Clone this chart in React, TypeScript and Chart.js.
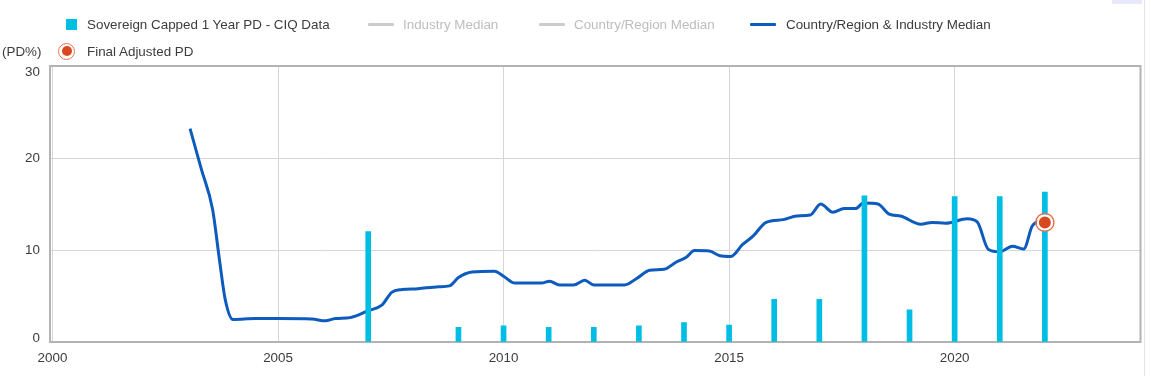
import React, { useEffect, useRef } from "react";
import { Chart, registerables } from "chart.js";

Chart.register(...registerables);

// ---------- data ----------
const barYears = [2007, 2009, 2010, 2011, 2012, 2013, 2014, 2015, 2016, 2017, 2018, 2019, 2020, 2021, 2022];
const barValues = [12.0, 1.6, 1.75, 1.6, 1.6, 1.75, 2.1, 1.85, 4.65, 4.65, 15.9, 3.5, 15.8, 15.8, 16.3];

const lineYears = [
  2003.05, 2003.3, 2003.55, 2003.7, 2003.83, 2004.0, 2004.5, 2005.0, 2005.75, 2006.05,
  2006.27, 2006.6, 2007.0, 2007.3, 2007.52, 2007.75, 2008.1, 2008.56, 2008.8, 2009.0,
  2009.3, 2009.8, 2010.0, 2010.25, 2010.84, 2011.02, 2011.24, 2011.55, 2011.8, 2012.0,
  2012.68, 2012.98, 2013.24, 2013.56, 2013.83, 2014.05, 2014.23, 2014.56, 2014.78, 2015.04,
  2015.3, 2015.53, 2015.82, 2016.2, 2016.5, 2016.8, 2017.03, 2017.3, 2017.55, 2017.8,
  2017.98, 2018.3, 2018.55, 2018.8, 2019.25, 2019.5, 2019.8, 2020.28, 2020.5, 2020.75,
  2021.0, 2021.28, 2021.53, 2021.72, 2021.9, 2022.0,
];
const lineValues = [
  23.2, 18.8, 14.4, 9.0, 4.6, 2.45, 2.55, 2.55, 2.5, 2.3,
  2.55, 2.65, 3.4, 4.0, 5.4, 5.7, 5.8, 6.0, 6.1, 7.0,
  7.6, 7.7, 7.15, 6.4, 6.4, 6.6, 6.2, 6.2, 6.7, 6.2,
  6.2, 7.0, 7.8, 7.9, 8.7, 9.2, 9.95, 9.9, 9.4, 9.3,
  10.6, 11.5, 13.0, 13.3, 13.7, 13.8, 15.0, 14.1, 14.5, 14.5,
  15.1, 15.0, 13.9, 13.7, 12.8, 13.0, 12.9, 13.4, 13.05, 10.05,
  9.8, 10.4, 10.1, 12.6, 13.1, 13.0,
];

const finalYears = [2022];
const finalValues = [13.0];

const xMin = 1999.945;
const xMax = 2024.12;
const xStep = 5;
const yMin = 0;
const yMax = 30;
const yTicks = [0, 10, 20, 30];

const seriesNames = [
  "Sovereign Capped 1 Year PD - CIQ Data",
  "Industry Median",
  "Country/Region Median",
  "Country/Region & Industry Median",
  "Final Adjusted PD",
];
const axisUnit = "(PD%)";

// ---------- styles ----------
const FONT = "'Liberation Sans', Arial, Helvetica, sans-serif";
const FONT_SIZE = 13.4;
const BAR_COLOR = "#00bde3";
const LINE_COLOR = "#0d5bbd";
const MARK_COLOR = "#d9481f";
const MARK_RING = "#e8704c";
const GRID_COLOR = "#d6d6d6";
const BORDER_COLOR = "#b3b3b3";
const TEXT_COLOR = "#3c3c3c";
const MUTED_TEXT = "#bdbdbd";

const borderPlugin = {
  id: "plotBorder",
  beforeDatasetsDraw(chart: any) {
    const { ctx, chartArea } = chart;
    ctx.save();
    ctx.strokeStyle = BORDER_COLOR;
    ctx.lineWidth = 2;
    ctx.strokeRect(chartArea.left, chartArea.top, chartArea.right - chartArea.left, chartArea.bottom - chartArea.top);
    ctx.restore();
  },
};

// y labels kept inside the plot's vertical extent (as in the reference)
const yLabelPlugin = {
  id: "yLabels",
  afterDraw(chart: any) {
    const { ctx, chartArea } = chart;
    const scale = chart.scales.y;
    ctx.save();
    ctx.font = `${FONT_SIZE}px ${FONT}`;
    ctx.fillStyle = TEXT_COLOR;
    ctx.textAlign = "right";
    ctx.textBaseline = "middle";
    yTicks.forEach((v) => {
      let y = scale.getPixelForValue(v);
      y = Math.max(chartArea.top + 6, Math.min(chartArea.bottom - 4, y));
      ctx.fillText(String(v), scale.right - 10, y);
    });
    ctx.restore();
  },
};

function LegendSwatch({ kind, color }: { kind: string; color: string }) {
  if (kind === "square") {
    return <div style={{ width: 11, height: 11, background: color }} />;
  }
  if (kind === "line") {
    return <div style={{ width: 26, height: 3, background: color, borderRadius: 1 }} />;
  }
  return (
    <div
      style={{
        width: 17,
        height: 17,
        borderRadius: "50%",
        border: `1.5px solid ${MARK_RING}`,
        boxSizing: "border-box",
        display: "flex",
        alignItems: "center",
        justifyContent: "center",
      }}
    >
      <div style={{ width: 10, height: 10, borderRadius: "50%", background: MARK_COLOR }} />
    </div>
  );
}

export default function App() {
  const canvasRef = useRef<HTMLCanvasElement | null>(null);

  useEffect(() => {
    const canvas = canvasRef.current;
    if (!canvas) return;
    const chart = new Chart(canvas, {
      type: "bar",
      data: {
        datasets: [
          {
            type: "scatter",
            label: seriesNames[4],
            data: finalYears.map((x, i) => ({ x, y: finalValues[i] })),
            backgroundColor: MARK_COLOR,
            borderColor: "#ffffff",
            borderWidth: 2,
            pointRadius: 7,
            order: 0,
          } as any,
          {
            type: "scatter",
            label: seriesNames[4] + " ring",
            data: finalYears.map((x, i) => ({ x, y: finalValues[i] })),
            backgroundColor: "rgba(0,0,0,0)",
            borderColor: MARK_RING,
            borderWidth: 1.5,
            pointRadius: 9,
            order: 0,
          } as any,
          {
            type: "bar",
            label: seriesNames[0],
            data: barYears.map((x, i) => ({ x, y: barValues[i] })),
            backgroundColor: BAR_COLOR,
            barThickness: 5,
            order: 1,
          } as any,
          {
            type: "line",
            label: seriesNames[3],
            data: lineYears.map((x, i) => ({ x, y: lineValues[i] })),
            borderColor: LINE_COLOR,
            borderWidth: 3,
            pointRadius: 0,
            cubicInterpolationMode: "monotone",
            fill: false,
            order: 2,
          } as any,
        ],
      },
      options: {
        animation: false,
        responsive: true,
        maintainAspectRatio: false,
        layout: { padding: { top: 66, right: 9, left: 0, bottom: 0 } },
        plugins: {
          legend: { display: false },
          tooltip: { enabled: false },
        },
        scales: {
          x: {
            type: "linear",
            min: xMin,
            max: xMax,
            offset: false,
            grid: { color: GRID_COLOR, drawTicks: false, offset: false },
            border: { display: true, color: BORDER_COLOR, width: 2 },
            ticks: {
              stepSize: xStep,
              includeBounds: false,
              padding: 8,
              color: TEXT_COLOR,
              font: { family: FONT, size: FONT_SIZE },
              callback: (v: any) => String(v),
              maxRotation: 0,
            },
            afterFit: (scale: any) => {
              scale.height = 34;
            },
          },
          y: {
            min: yMin,
            max: yMax,
            afterBuildTicks: (scale: any) => {
              scale.ticks = yTicks.map((v) => ({ value: v }));
            },
            grid: { color: GRID_COLOR, drawTicks: false },
            border: { display: true, color: BORDER_COLOR, width: 2 },
            ticks: { display: false },
            afterFit: (scale: any) => {
              scale.width = 50;
            },
          },
        },
      } as any,
      plugins: [borderPlugin, yLabelPlugin],
    });
    return () => chart.destroy();
  }, []);

  const legendRow1 = [
    { label: seriesNames[0], kind: "square", color: BAR_COLOR, text: TEXT_COLOR, left: 66, gap: 10 },
    { label: seriesNames[1], kind: "line", color: "#cccccc", text: MUTED_TEXT, left: 368, gap: 9 },
    { label: seriesNames[2], kind: "line", color: "#cccccc", text: MUTED_TEXT, left: 539, gap: 9 },
    { label: seriesNames[3], kind: "line", color: LINE_COLOR, text: TEXT_COLOR, left: 750, gap: 10 },
  ];

  return (
    <div style={{ position: "absolute", left: 0, top: 0, width: 1151, height: 376, background: "#fff", fontFamily: FONT, overflow: "hidden" }}>
      <div style={{ position: "absolute", left: 0, top: 0, width: 1151, height: 376 }}>
        <canvas ref={canvasRef} />
      </div>
      {legendRow1.map((it) => (
        <div
          key={it.label}
          style={{ position: "absolute", left: it.left, top: 15, height: 18, display: "flex", alignItems: "center", gap: it.gap, fontSize: FONT_SIZE, color: it.text, whiteSpace: "nowrap" }}
        >
          <LegendSwatch kind={it.kind} color={it.color} />
          <span>{it.label}</span>
        </div>
      ))}
      <div style={{ position: "absolute", left: 2, top: 42, height: 18, display: "flex", alignItems: "center", fontSize: FONT_SIZE, color: TEXT_COLOR }}>
        {axisUnit}
      </div>
      <div style={{ position: "absolute", left: 58, top: 42, height: 18, display: "flex", alignItems: "center", gap: 12, fontSize: FONT_SIZE, color: TEXT_COLOR, whiteSpace: "nowrap" }}>
        <LegendSwatch kind="marker" color={MARK_COLOR} />
        <span>{seriesNames[4]}</span>
      </div>
      <div style={{ position: "absolute", left: 1112, top: 0, width: 30, height: 4, background: "#e8e8fa" }} />
      <div style={{ position: "absolute", left: 1144, top: 0, width: 1, height: 376, background: "#e4e4e4" }} />
    </div>
  );
}
